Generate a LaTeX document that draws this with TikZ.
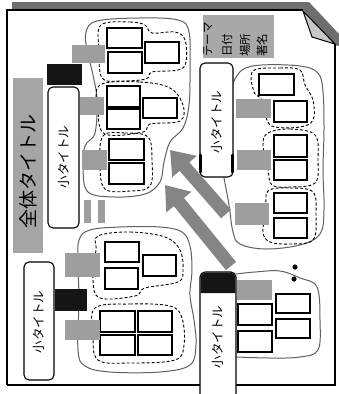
\documentclass[tikz,border=0pt]{standalone}
\usepackage{fontspec}
\newfontfamily\jp{Noto Sans CJK JP}
\usetikzlibrary{arrows.meta}
\definecolor{lblgray}{HTML}{9E9E9E}
\definecolor{titlegray}{HTML}{A5A5A5}
\definecolor{themegray}{HTML}{A8A8A8}
\definecolor{arrowgray}{HTML}{858585}
\definecolor{cloudgray}{HTML}{606060}
\definecolor{blk}{HTML}{151515}
\definecolor{shadowgray}{HTML}{6E6E6E}
\definecolor{foldgray}{HTML}{C8C8C8}
\newcommand\placerect[6]{%
  \pgfmathsetmacro\myrw{#5-#3}\pgfmathsetmacro\myrh{#6-#4}%
  \node[#1, anchor=north west, minimum width=\myrw pt, minimum height=\myrh pt, inner sep=0pt, outer sep=0pt] (#2) at (#3,#4) {};}
\begin{document}
\begin{tikzpicture}[x=1pt,y=-1pt,
  box/.style={draw=black, line width=1.2pt, fill=white},
  lbl/.style={fill=lblgray},
  blkbox/.style={fill=blk},
  cloud/.style={draw=cloudgray, line width=1pt},
  grp/.style={draw=black, dash pattern=on 3pt off 2pt, line width=0.9pt},
  sub/.style={draw=black, line width=1.1pt, fill=white, rounded corners=5pt},
  subtxt/.style={rotate=90, font=\jp\fontsize{12.5}{12.5}\selectfont, inner sep=0pt},
  themetxt/.style={rotate=90, anchor=west, font=\jp\fontsize{11.5}{11.5}\selectfont, inner sep=0pt},
  bigarrow/.style={draw=arrowgray, line width=13pt, -{Triangle[length=22pt, width=31pt]}}
]
\useasboundingbox (0,0) rectangle (339,394);
\fill[white] (0,0) rectangle (339,394);
% page shadow and fold
\fill[shadowgray] (12,2) -- (309,2) -- (339,34) -- (339,46) -- (335,45) -- (303,10) -- (12,10) -- cycle;
\draw[black, line width=1.5pt] (7,385) -- (7,10) -- (303,10);
\draw[black, line width=1.5pt] (335,44) -- (335,385) -- (7,385);
\filldraw[fill=foldgray, draw=black, line width=1pt] (303,11) -- (312,37) -- (335,44) -- cycle;

% clusters (solid outlines)
\draw[cloud] plot[smooth cycle, tension=0.6] coordinates {(97,21) (140,18) (178,20) (189,32) (190,70) (189,105) (183,128) (170,142) (164,162) (160,182) (145,194) (115,197) (88,192) (83,168) (85,146) (95,133) (97,100) (93,75) (87,50) (86,32)};
\draw[cloud] plot[smooth, tension=0.6] coordinates {(232,85) (242,70) (262,65) (300,66) (318,73) (323,92) (324,130) (323,170) (324,210) (320,234) (300,245) (265,249) (240,244) (233,232) (229,205) (224,178)};
\draw[cloud] plot[smooth cycle, tension=0.6] coordinates {(79,240) (90,230) (120,227) (160,227) (182,232) (190,246) (192,270) (190,295) (194,320) (196,345) (190,365) (160,372) (110,372) (85,366) (78,350) (79,300) (78,265)};
\draw[cloud] plot[smooth, tension=0.6] coordinates {(236,274) (255,272) (280,271) (300,278) (317,287) (320,320) (318,350) (300,357) (270,358) (236,357)};

% dashed groups
\draw[grp] plot[smooth cycle, tension=0.6] coordinates {(101,25) (130,22) (145,25) (152,33) (175,32) (185,40) (186,62) (178,70) (152,72) (146,79) (120,81) (102,78) (99,50)};
\draw[grp] plot[smooth cycle, tension=0.6] coordinates {(100,85) (140,82) (170,88) (183,105) (180,121) (150,124) (143,132) (105,134) (98,110)};
\draw[grp] plot[smooth cycle, tension=0.6] coordinates {(103,136) (125,133) (148,137) (152,160) (150,186) (130,191) (105,189) (100,165)};
\draw[grp] plot[smooth cycle, tension=0.6] coordinates {(253,71) (280,68) (300,70) (305,85) (313,100) (313,120) (300,127) (275,127) (267,120) (262,100) (254,92)};
\draw[grp] plot[smooth cycle, tension=0.6] coordinates {(268,133) (290,129) (315,135) (318,160) (315,183) (290,187) (272,185) (268,170) (263,145)};
\draw[grp] plot[smooth cycle, tension=0.6] coordinates {(268,191) (290,188) (313,192) (316,215) (313,240) (290,244) (270,242) (263,232) (266,210)};
\draw[grp] plot[smooth cycle, tension=0.6] coordinates {(98,236) (130,232) (165,237) (180,250) (183,270) (178,282) (145,288) (135,296) (100,298) (93,280) (96,250)};
\draw[grp] plot[smooth cycle, tension=0.6] coordinates {(95,308) (130,304) (170,306) (182,318) (184,345) (175,360) (130,363) (98,360) (93,335)};

% boxes
\placerect{box}{a1}{107}{28}{142}{48}
\placerect{box}{a2}{108}{52}{142}{73}
\placerect{box}{a3}{145}{42}{179}{63}
\placerect{box}{a4}{107}{86}{140}{107}
\placerect{box}{a5}{107}{109}{140}{129}
\placerect{box}{a6}{143}{98}{177}{118}
\placerect{box}{a7}{109}{139}{144}{160}
\placerect{box}{a8}{109}{163}{144}{184}
\placerect{box}{b1}{259}{74}{294}{95}
\placerect{box}{b2}{274}{101}{307}{122}
\placerect{box}{b3}{274}{135}{307}{157}
\placerect{box}{b4}{274}{160}{307}{180}
\placerect{box}{b5}{274}{193}{307}{213}
\placerect{box}{b6}{274}{218}{307}{238}
\placerect{box}{c1}{105}{242}{139}{262}
\placerect{box}{c2}{105}{268}{138}{289}
\placerect{box}{c3}{143}{255}{176}{276}
\placerect{box}{c4}{100}{311}{135}{332}
\placerect{box}{c5}{138}{311}{172}{332}
\placerect{box}{c6}{100}{335}{135}{355}
\placerect{box}{c7}{138}{335}{172}{355}
\placerect{box}{d1}{276}{294}{310}{313}
\placerect{box}{d2}{276}{319}{310}{338}
\placerect{box}{d3}{238}{304}{272}{325}
\placerect{box}{d4}{238}{331}{272}{352}

% gray labels
\placerect{lbl}{la1}{72}{45}{105}{63}
\placerect{lbl}{la2}{80}{97}{104}{115}
\placerect{lbl}{la3}{82}{150}{107}{170}
\placerect{lbl}{lb1}{236}{99}{271}{118}
\placerect{lbl}{lb2}{237}{150}{271}{170}
\placerect{lbl}{lb3}{235}{203}{269}{225}
\placerect{lbl}{lc1}{65}{253}{100}{277}
\placerect{lbl}{lc2}{65}{320}{100}{340}
\placerect{lbl}{ld1}{237}{280}{272}{300}
\placerect{lbl}{bar1}{84}{200}{91}{223}
\placerect{lbl}{bar2}{98}{200}{105}{223}

% black blocks
\placerect{blkbox}{k1}{47}{64}{82}{85}
\placerect{blkbox}{k2}{55}{289}{87}{311}

% overall title
\placerect{fill=titlegray}{titleband}{13}{78}{43}{253}
\node[rotate=90, font=\jp\fontsize{19}{19}\selectfont, inner sep=0pt] (title) at (28,171) {全体タイトル};

% theme box
\placerect{fill=themegray}{theme}{203}{15}{274}{58}
\node[themetxt] (t1) at (208,57) {テーマ};
\node[themetxt] (t2) at (227,57) {日付};
\node[themetxt] (t3) at (245,57) {場所};
\node[themetxt] (t4) at (262,57) {著名};

% subtitle boxes
\placerect{sub}{s1}{48}{87}{79}{228}
\node[subtxt] (s1t) at (63.5,157) {小タイトル};
\placerect{sub}{s2}{24}{262}{54}{380}
\node[subtxt] (s2t) at (39,322) {小タイトル};
\placerect{sub}{s3}{200}{63}{233}{177}
\draw[line width=3pt, line cap=round] (200.5,155) -- (200.5,172);
\draw[line width=3pt, line cap=round] (232.5,155) -- (232.5,172);
\node[subtxt] (s3t) at (216.5,122) {小タイトル};
\placerect{sub}{s4}{200}{272}{236}{410}
\fill[blk] (200.6,293) [rounded corners=4.5pt] -- (200.6,272.6) -- (235.4,272.6) [sharp corners] -- (235.4,293) -- cycle;
\node[subtxt] (s4t) at (218,337) {小タイトル};

% big arrows
\coordinate (ar1s) at (226,214);
\coordinate (ar1e) at (170,150);
\coordinate (ar2s) at (231,266);
\coordinate (ar2e) at (165,185);
\draw[bigarrow] (ar1s) -- (ar1e);
\draw[bigarrow] (ar2s) -- (ar2e);

% dots
\fill[black] (295,267) circle (2.6pt);
\fill[black] (294,279) circle (2.6pt);
\end{tikzpicture}
\end{document}
